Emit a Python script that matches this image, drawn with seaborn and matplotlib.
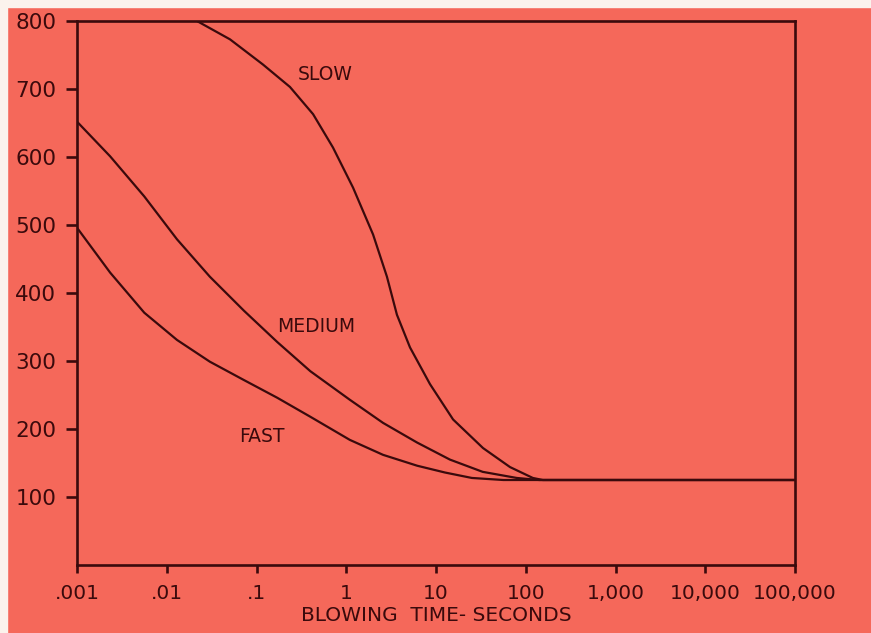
import numpy as np
import pandas as pd
import matplotlib
matplotlib.use("Agg")
import matplotlib.pyplot as plt
import seaborn as sns
from matplotlib.ticker import FixedLocator, NullLocator

# ---- data ----
fast_t = [0.001, 0.00234, 0.00562, 0.013, 0.0302, 0.0724, 0.17, 0.398, 1.096, 2.57, 6.17,
          12.6, 25.1, 56.2, 100000]
fast_v = [496, 430, 371, 331, 299, 272, 246, 218, 184, 162, 146, 136, 128, 125, 125]

medium_t = [0.001, 0.00234, 0.00562, 0.013, 0.0302, 0.0724, 0.17, 0.398, 1.096, 2.57, 6.17,
            14.3, 33.1, 79.4, 141, 100000]
medium_v = [652, 601, 542, 479, 424, 374, 328, 285, 243, 209, 180, 155, 137, 128, 125, 125]

slow_t = [0.0217, 0.0507, 0.118, 0.236, 0.427, 0.711, 1.19, 1.99, 2.84, 3.67, 5.13, 8.57,
          15.5, 33.4, 66.8, 120, 155, 100000]
slow_v = [800, 773, 736, 703, 663, 614, 555, 486, 424, 368, 320, 266, 214, 172, 144, 128, 125, 125]

x_ticks = [0.001, 0.01, 0.1, 1, 10, 100, 1000, 10000, 100000]
x_labels = [".001", ".01", ".1", "1", "10", "100", "1,000", "10,000", "100,000"]
y_ticks = [100, 200, 300, 400, 500, 600, 700, 800]

labels = {"SLOW": (0.58, 722), "MEDIUM": (0.46, 350), "FAST": (0.115, 189)}

df = pd.concat([
    pd.DataFrame({"t": fast_t, "v": fast_v, "s": "FAST"}),
    pd.DataFrame({"t": medium_t, "v": medium_v, "s": "MEDIUM"}),
    pd.DataFrame({"t": slow_t, "v": slow_v, "s": "SLOW"}),
])

BG = "#F5685A"
INK = "#3A0A0C"

sns.set_theme(style="ticks")
plt.rcParams["font.family"] = ["DejaVu Sans"]

fig = plt.figure(figsize=(8.71, 6.33), dpi=100, facecolor=BG)
ax = fig.add_axes([77 / 871, 68 / 633, (795 - 77) / 871, (565 - 21) / 633])
ax.set_facecolor(BG)

sns.lineplot(data=df, x="t", y="v", hue="s", units="s", estimator=None, sort=True,
             palette={"FAST": INK, "MEDIUM": INK, "SLOW": INK}, legend=False,
             linewidth=1.6, ax=ax)
for ln in ax.get_lines():
    ln.set_solid_joinstyle("round")
    ln.set_solid_capstyle("round")

ax.set_xscale("log")
ax.set_xlim(0.001, 100000)
ax.set_ylim(0, 800)
ax.xaxis.set_major_locator(FixedLocator(x_ticks))
ax.xaxis.set_minor_locator(NullLocator())
ax.set_xticklabels(x_labels)
ax.set_yticks(y_ticks)
ax.set_yticklabels([str(v) for v in y_ticks])

for sp in ax.spines.values():
    sp.set_visible(True)
    sp.set_color(INK)
    sp.set_linewidth(1.9)

ax.tick_params(axis="x", direction="out", length=6, width=1.9, color=INK,
               labelcolor=INK, labelsize=14.5, pad=8)
ax.tick_params(axis="y", direction="out", length=8, width=1.9, color=INK,
               labelcolor=INK, labelsize=15.5, pad=7)

ax.set_xlabel("BLOWING  TIME- SECONDS", color=INK, fontsize=14.5, labelpad=2)
ax.set_ylabel("")

for name, (xv, yv) in labels.items():
    ax.text(xv, yv, name, color=INK, fontsize=13.5, ha="center", va="center")

# pale scan margins at the top and left edges
fig.patches.append(plt.Rectangle((0, 1 - 7 / 633), 1, 7 / 633, transform=fig.transFigure,
                                 color="#FBF3EC", zorder=0))
fig.patches.append(plt.Rectangle((0, 0), 7 / 871, 1, transform=fig.transFigure,
                                 color="#FBF3EC", zorder=0))

fig.savefig("out.png", dpi=100, facecolor=BG)
